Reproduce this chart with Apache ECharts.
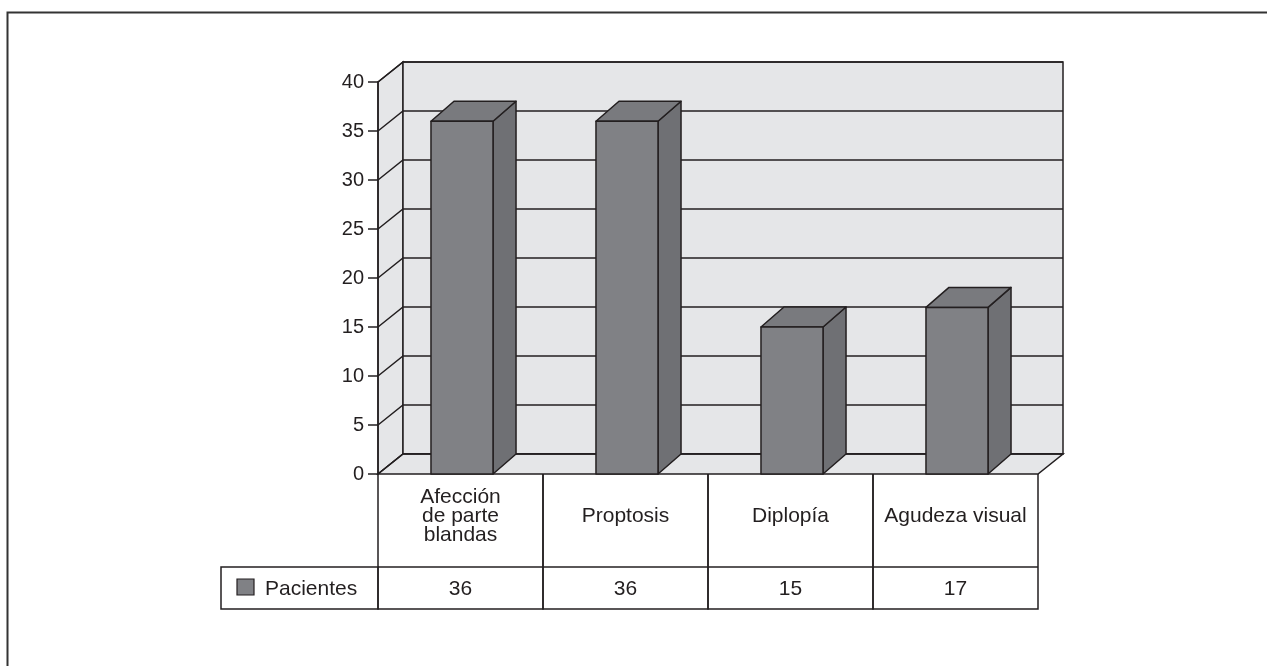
<!DOCTYPE html>
<html>
<head>
<meta charset="utf-8">
<script src="https://cdn.jsdelivr.net/npm/echarts@6/dist/echarts.min.js"></script>
<style>
  html, body { margin: 0; padding: 0; background: #fff; }
  #chart { width: 1267px; height: 666px; }
</style>
</head>
<body>
<div id="chart"></div>
<script>
// data
const categories = ['Afección\nde parte\nblandas', 'Proptosis', 'Diplopía', 'Agudeza visual']
const pacientes = [36, 36, 15, 17]
const seriesName = 'Pacientes'
const yTicks = [0, 5, 10, 15, 20, 25, 30, 35, 40]

const ink = '#231f20'
const wallColor = '#e5e6e8'
const barFront = '#808185'
const barSide = '#6f7074'
const barTop = '#797a7e'
const font = '"Liberation Sans", Arial, sans-serif'

// 3d depth offsets
const wallDx = 25, wallDy = -20
const barDx = 23, barDy = -20
const rowCat = 93, rowVal = 42

const chart = echarts.init(document.getElementById('chart'))

const renderWalls = (params, api) => {
  const cs = params.coordSys
  const x0 = cs.x, x1 = cs.x + cs.width
  const yTop = api.coord([0, 40])[1]
  const yBase = api.coord([0, 0])[1]
  const style = { fill: wallColor, stroke: ink, lineWidth: 1.5 }
  const children = [
    { type: 'polygon', shape: { points: [[x0, yTop], [x0 + wallDx, yTop + wallDy], [x0 + wallDx, yBase + wallDy], [x0, yBase]] }, style },
    { type: 'rect', shape: { x: x0 + wallDx, y: yTop + wallDy, width: x1 - x0, height: yBase - yTop }, style },
    { type: 'polygon', shape: { points: [[x0, yBase], [x0 + wallDx, yBase + wallDy], [x1 + wallDx, yBase + wallDy], [x1, yBase]] }, style }
  ]
  yTicks.forEach(t => {
    const y = api.coord([0, t])[1]
    children.push({ type: 'polyline', shape: { points: [[x0, y], [x0 + wallDx, y + wallDy], [x1 + wallDx, y + wallDy]] }, style: { fill: null, stroke: ink, lineWidth: 1.5 } })
  })
  return { type: 'group', children }
}

const renderBar = (params, api) => {
  const i = api.value(0)
  const v = api.value(1)
  const base = api.coord([i, 0])
  const top = api.coord([i, v])
  const bw = api.size([1, 0])[0] * 0.376
  const xa = base[0] - bw / 2 + 1.5, xb = xa + bw
  const s = { stroke: ink, lineWidth: 1.5, lineJoin: 'round' }
  return {
    type: 'group',
    children: [
      { type: 'polygon', shape: { points: [[xb, top[1]], [xb + barDx, top[1] + barDy], [xb + barDx, base[1] + barDy], [xb, base[1]]] }, style: Object.assign({ fill: barSide }, s) },
      { type: 'polygon', shape: { points: [[xa, top[1]], [xa + barDx, top[1] + barDy], [xb + barDx, top[1] + barDy], [xb, top[1]]] }, style: Object.assign({ fill: barTop }, s) },
      { type: 'rect', shape: { x: xa, y: top[1], width: bw, height: base[1] - top[1] }, style: Object.assign({ fill: barFront }, s) }
    ]
  }
}

const renderTable = (params, api) => {
  const i = api.value(0)
  const v = api.value(1)
  const base = api.coord([i, 0])
  const band = api.size([1, 0])[0]
  const xl = base[0] - band / 2
  const y0 = base[1]
  const line = { fill: null, stroke: ink, lineWidth: 1.5 }
  const txt = { fontFamily: font, fontSize: 21, fill: ink }
  const children = [
    { type: 'polyline', shape: { points: [[xl, y0], [xl, y0 + rowCat + rowVal], [xl + band, y0 + rowCat + rowVal], [xl + band, y0]] }, style: line },
    { type: 'line', shape: { x1: xl, y1: y0 + rowCat, x2: xl + band, y2: y0 + rowCat }, style: line },
    { type: 'text', style: Object.assign({ x: base[0], y: y0 + rowCat / 2 - 4, text: categories[i], align: 'center', verticalAlign: 'middle', lineHeight: 19 }, txt) },
    { type: 'text', style: Object.assign({ x: base[0], y: y0 + rowCat + rowVal / 2 + 1, text: String(v), align: 'center', verticalAlign: 'middle' }, txt) }
  ]
  if (i === 0) {
    const lx = xl - 157
    children.push(
      { type: 'rect', shape: { x: lx, y: y0 + rowCat, width: 157, height: rowVal }, style: line },
      { type: 'rect', shape: { x: lx + 16, y: y0 + rowCat + 12, width: 17, height: 16 }, style: { fill: barFront, stroke: ink, lineWidth: 1.2 } },
      { type: 'text', style: Object.assign({ x: lx + 44, y: y0 + rowCat + rowVal / 2 + 1, text: seriesName, align: 'left', verticalAlign: 'middle' }, txt) }
    )
  }
  return { type: 'group', children }
}

chart.setOption({
  animation: false,
  backgroundColor: '#fff',
  graphic: [{
    type: 'polyline',
    shape: { points: [[7.5, 666], [7.5, 12.5], [1267, 12.5]] },
    style: { fill: null, stroke: '#333', lineWidth: 2 }
  }],
  grid: { left: 378, right: 229, top: 82, bottom: 192, containLabel: false },
  xAxis: {
    type: 'category',
    data: categories,
    axisLine: { show: false },
    axisTick: { show: false },
    axisLabel: { show: false },
    splitLine: { show: false }
  },
  yAxis: {
    type: 'value',
    min: 0,
    max: 40,
    interval: 5,
    z: 10,
    axisLine: { show: true, lineStyle: { color: ink, width: 1.5 } },
    axisTick: { show: true, length: 10, lineStyle: { color: ink, width: 1.5 } },
    axisLabel: { color: ink, fontSize: 20, fontFamily: font, margin: 14 },
    splitLine: { show: false }
  },
  series: [
    {
      type: 'custom',
      name: 'walls',
      z: 1,
      silent: true,
      data: [[0]],
      renderItem: renderWalls
    },
    {
      type: 'custom',
      name: seriesName,
      z: 3,
      data: pacientes.map((v, i) => [i, v]),
      renderItem: renderBar
    },
    {
      type: 'custom',
      name: 'table',
      z: 4,
      silent: true,
      data: pacientes.map((v, i) => [i, v]),
      renderItem: renderTable
    }
  ]
})
</script>
</body>
</html>
